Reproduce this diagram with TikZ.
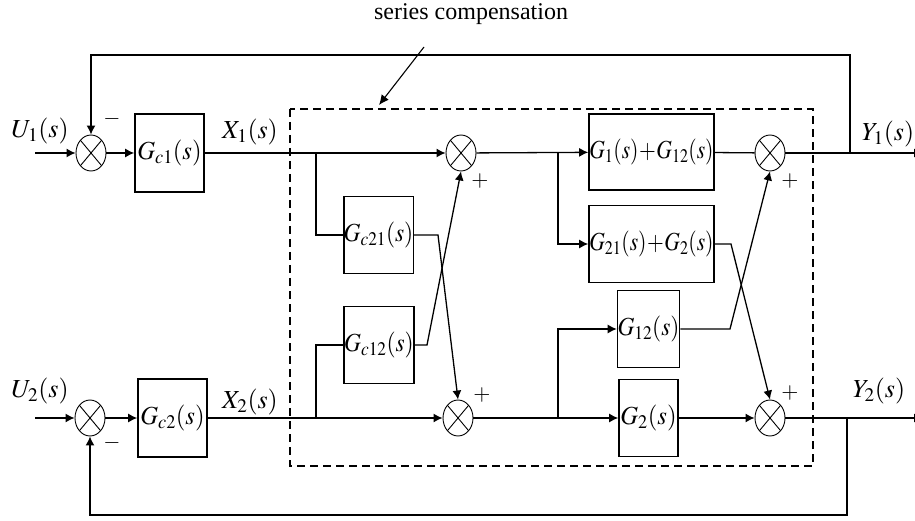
\documentclass[tikz,border=0pt]{standalone}
\usepackage{graphicx}
\usepackage{mathptmx}
\usepackage{fontspec}
\setmainfont{Liberation Serif}
\usetikzlibrary{arrows.meta,shapes.geometric}
\newcommand{\cnd}[2][1]{\scalebox{#1}[1]{#2}}
\tikzset{
  blk/.style={draw,line width=1.6pt,inner sep=0pt,font=\fontsize{26}{28}\selectfont},
  sumj/.style={draw,ellipse,line width=0.9pt,minimum width=30pt,minimum height=36pt,inner sep=0pt,
    path picture={\draw[line width=0.9pt] (path picture bounding box.north west) -- (path picture bounding box.south east)
      (path picture bounding box.north east) -- (path picture bounding box.south west);}},
  wire/.style={line width=1.3pt},
  arr/.style={wire,-{Latex[length=9pt,width=9pt]}},
  lbl/.style={font=\fontsize{26}{28}\selectfont,inner sep=0pt},
  sgn/.style={font=\fontsize{22}{24}\selectfont,inner sep=0pt}
}
\begin{document}
\begin{tikzpicture}[x=1pt,y=-1pt]
\useasboundingbox (0,0) rectangle (915,521);
% dashed box
\draw[line width=1.3pt,dash pattern=on 8pt off 5pt] (290,109) rectangle (813,466);
% summing junctions
\node[sumj] (s0) at (91,153) {};
\node[sumj] (sB) at (90,418) {};
\node[sumj] (s1) at (461,153) {};
\node[sumj] (s2) at (458,418) {};
\node[sumj] (s3) at (770,153) {};
\node[sumj] (s4) at (770,418) {};
% blocks
\node[blk,minimum width=69pt,minimum height=78pt] (gc1) at (169.5,153) {\cnd[0.95]{$G_{c1}(s)$}};
\node[blk,minimum width=69pt,minimum height=78pt] (gc2) at (172.5,418) {\cnd[0.95]{$G_{c2}(s)$}};
\node[blk,minimum width=69pt,minimum height=77pt] (gc21) at (378.5,235) {\cnd[0.9]{$G_{c21}(s)$}};
\node[blk,minimum width=68pt,minimum height=77pt] (gc12) at (379,345) {\cnd[0.9]{$G_{c12}(s)$}};
\node[blk,minimum width=125pt,minimum height=76pt] (ga) at (651.5,152) {\cnd[0.83]{$G_1(s)\!+\!G_{12}(s)$}};
\node[blk,minimum width=125pt,minimum height=77pt] (gb) at (651.5,244) {\cnd[0.83]{$G_{21}(s)\!+\!G_2(s)$}};
\node[blk,minimum width=59pt,minimum height=77pt] (g12) at (648.5,329) {\cnd[0.9]{$G_{12}(s)$}};
\node[blk,minimum width=59pt,minimum height=77pt] (g2) at (648.5,418) {\cnd[0.95]{$G_2(s)$}};
% labels
\node[lbl] (u1) at (40,131) {\cnd{$U_1(s)$}};
\node[lbl] (u2) at (40,391) {\cnd{$U_2(s)$}};
\node[lbl] (x1) at (250,132) {\cnd{$X_1(s)$}};
\node[lbl] (x2) at (250,402) {\cnd{$X_2(s)$}};
\node[lbl] (y1) at (888,134) {\cnd{$Y_1(s)$}};
\node[lbl] (y2) at (879,391) {\cnd{$Y_2(s)$}};
\node[sgn] (m1) at (112,119) {$-$};
\node[sgn] (m2) at (112,443) {$-$};
\node[sgn] (p1) at (480,181) {$+$};
\node[sgn] (p2) at (482,395) {$+$};
\node[sgn] (p3) at (790,181) {$+$};
\node[sgn] (p4) at (790,393) {$+$};
\node[font=\fontsize{24}{26}\selectfont,inner sep=0pt] (sc) at (471,14) {series compensation};
% coordinates
\coordinate (in1) at (35,153);
\coordinate (in2) at (35,418);
\coordinate (b1) at (316,153);
\coordinate (b2) at (316,418);
\coordinate (b3) at (558,153);
\coordinate (b4) at (558,418);
\coordinate (k1) at (438,235);
\coordinate (k2) at (427,345);
\coordinate (k3) at (731,244);
\coordinate (k4) at (730,329);
\coordinate (f1) at (850,153);
\coordinate (f2) at (847,418);
\coordinate (o1) at (923,153);
\coordinate (o2) at (923,418);
\coordinate (a0) at (424,47);
\coordinate (a1) at (379,105);
% wires
\draw[arr] (in1) -- (s0);
\draw[arr] (in2) -- (sB);
\draw[arr] (s0) -- (gc1);
\draw[arr] (sB) -- (gc2);
\draw[arr] (gc1) -- (s1);
\draw[arr] (gc2) -- (s2);
\draw[wire] (b1) |- (gc21.west);
\draw[wire] (b2) |- (gc12.west);
\draw[arr] (gc21.east) -- (k1) -- (s2.north);
\draw[arr] (gc12.east) -- (k2) -- (s1.south);
\draw[arr] (s1) -- (ga);
\draw[arr] (s2) -- (g2);
\draw[arr] (b3) |- (gb.west);
\draw[arr] (b4) |- (g12.west);
\draw[wire] (ga) -- (s3);
\draw[arr] (g2) -- (s4);
\draw[arr] (gb.east) -- (k3) -- (s4.north);
\draw[arr] (g12.east) -- (k4) -- (s3.south);
\draw[arr] (s3) -- (o1);
\draw[arr] (s4) -- (o2);
\draw[arr] (f1) -- ++(0,-98) -| (s0.north);
\draw[arr] (f2) -- ++(0,97) -| (sB.south);
\draw[wire,line width=1.1pt,-{Latex[length=10pt,width=9pt]}] (a0) -- (a1);
\end{tikzpicture}
\end{document}
